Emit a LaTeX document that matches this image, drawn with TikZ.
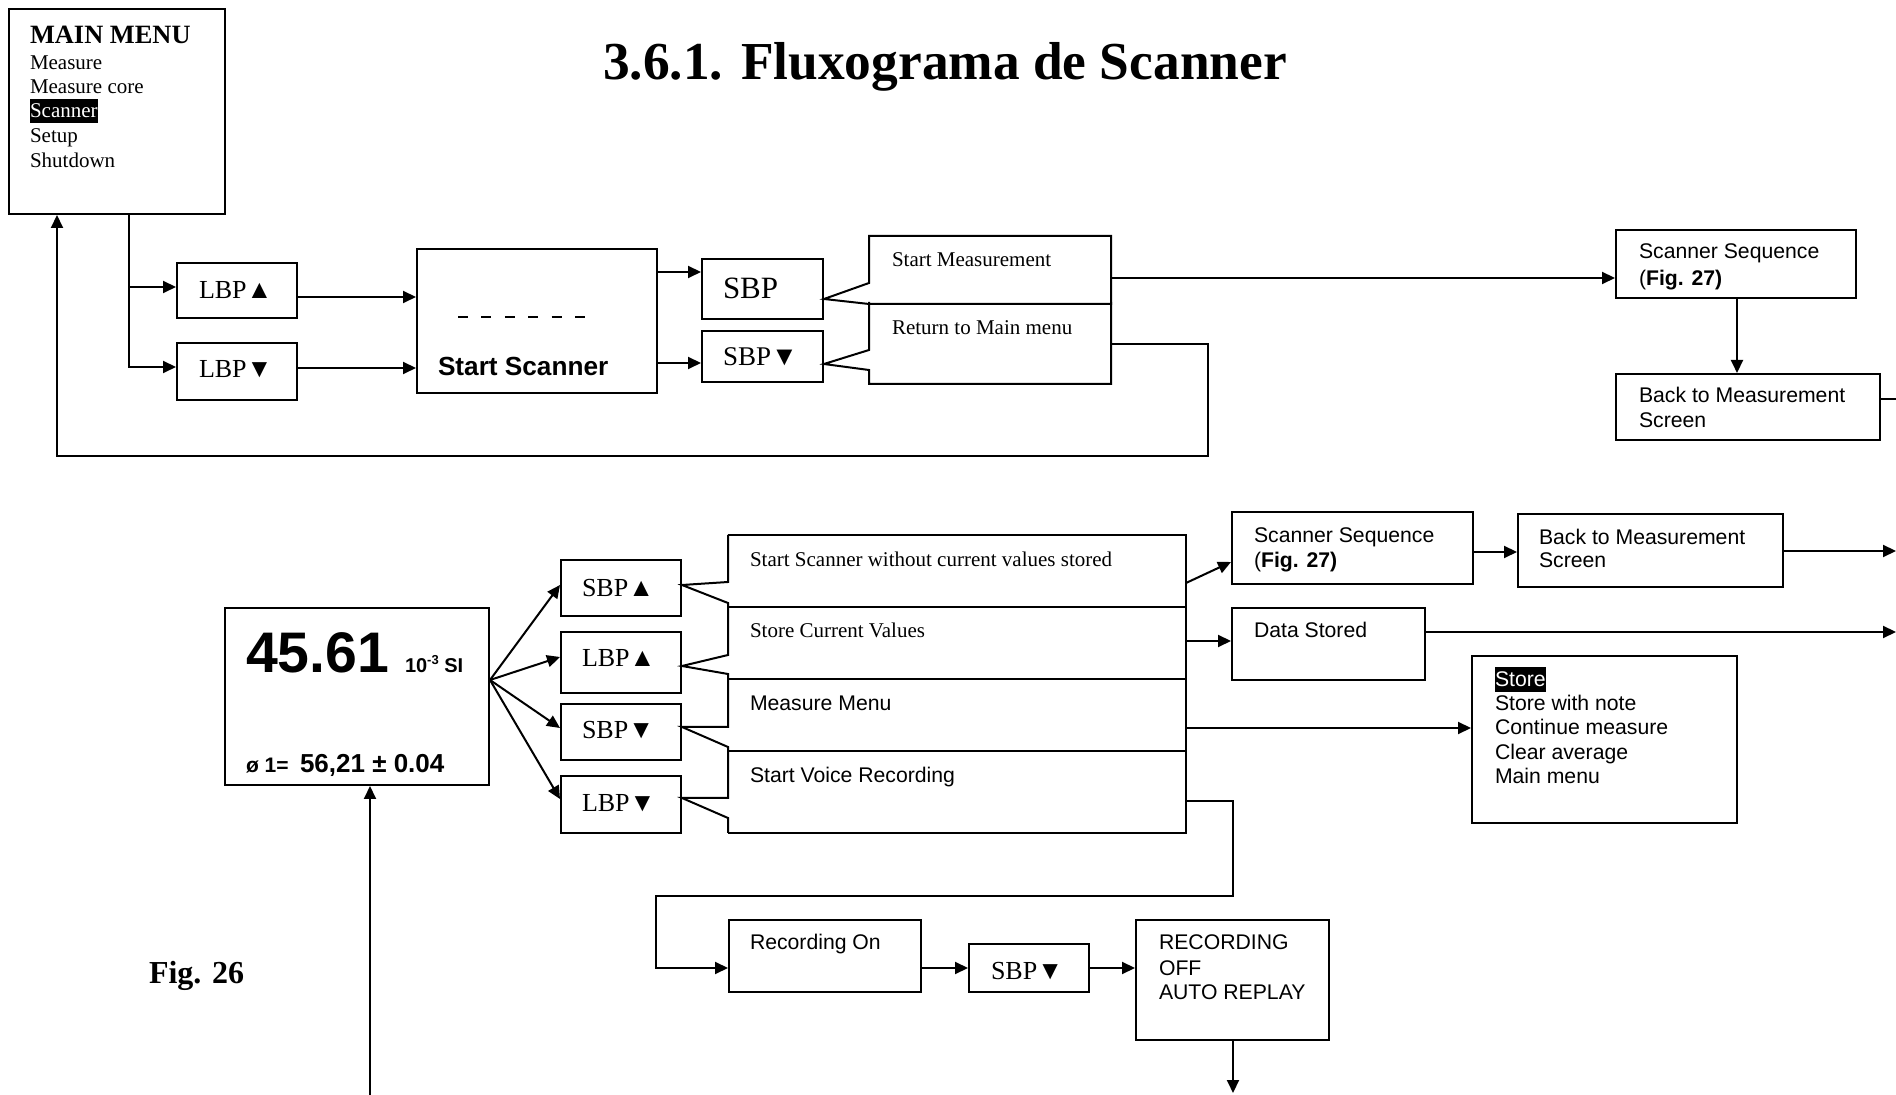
\documentclass[tikz,border=0pt]{standalone}
\usepackage{fontspec}
\setmainfont{Liberation Serif}
\newfontfamily\arialf{Liberation Sans}
\usetikzlibrary{arrows.meta,fit}

\begin{document}
\begin{tikzpicture}[x=0.5pt,y=-0.5pt,line width=1pt,
  box/.style={draw,inner sep=0pt},
  frame/.style={inner sep=0pt},
  arr/.style={-{Triangle[length=6.5pt,width=6pt]}},
  lbl/.style={anchor=base west,inner sep=0pt,font=\fontsize{10.5}{12}\selectfont},
  slbl/.style={anchor=base west,inner sep=0pt,font=\arialf\fontsize{10.6}{12}\selectfont},
  key/.style={anchor=base west,inner sep=0pt,font=\fontsize{13}{14}\selectfont},
  hilite/.style={fill=black,text=white,text height=9.6pt,text depth=2.5pt}]
\useasboundingbox (0,0) rectangle (1896,1095);

% ---------- title ----------
\node[anchor=base,inner sep=0pt,font=\bfseries\fontsize{26.7}{30}\selectfont] (title) at (945,80) {3.6.1. Fluxograma de Scanner};

% ---------- main menu ----------
\node[box,fit={(9,9)(225,214)}] (mm) {};
\node[anchor=base west,inner sep=0pt,font=\bfseries\fontsize{13.2}{15}\selectfont] (mmt) at (29,44) {MAIN MENU};
\node[lbl] (mm1) at (29,70) {Measure};
\node[lbl] (mm2) at (29,94) {Measure core};
\node[lbl,hilite] (mm3) at (29,118) {Scanner};
\node[lbl] (mm4) at (29,143) {Setup};
\node[lbl] (mm5) at (29,168) {Shutdown};

% ---------- upper row ----------
\node[box,fit={(177,263)(297,318)}] (lbpu) {};
\node[key] (lbput) at (198,299) {LBP▲};
\node[box,fit={(177,343)(297,400)}] (lbpd) {};
\node[key] (lbpdt) at (198,378) {LBP▼};

\node[box,fit={(417,249)(657,393)}] (ss) {};
\draw[line width=0.8pt,dash pattern=on 5pt off 6.7pt] (458,317) -- (585,317);
\node[anchor=base west,inner sep=0pt,font=\arialf\bfseries\fontsize{13.1}{14}\selectfont] (sst) at (437,376) {Start Scanner};

\node[box,fit={(702,259)(823,319)}] (sbp) {};
\node[key,font=\fontsize{15.5}{17}\selectfont] (sbpt) at (722,299) {SBP};
\node[box,fit={(702,331)(823,382)}] (sbpd) {};
\node[key,font=\fontsize{13.5}{15}\selectfont] (sbpdt) at (722,366) {SBP▼};

\node[frame,fit={(870,237)(1110,303)}] (sm) {};
\node[frame,fit={(870,303)(1110,383)}] (rm) {};
\draw (sm.west |- 0,283) -- (sm.north west) -- (sm.north east) -- (sm.south east)
      -- (sm.south west) -- (sbp.east |- 0,299) -- cycle;
\draw (rm.north west) -- (rm.west |- 0,350) -- (sbpd.east |- 0,364) -- (rm.west |- 0,370)
      -- (rm.south west) -- (rm.south east) -- (rm.north east);
\node[lbl] (smt) at (891,267) {Start Measurement};
\node[lbl] (rmt) at (891,335) {Return to Main menu};

\node[box,fit={(1616,230)(1856,298)}] (seq) {};
\node[slbl] (seq1) at (1638,259) {Scanner Sequence};
\node[slbl] (seq2) at (1638,286) {(\textbf{Fig. 27)}};
\node[box,fit={(1616,374)(1880,440)}] (back) {};
\node[slbl] (back1) at (1638,403) {Back to Measurement};
\node[slbl] (back2) at (1638,428) {Screen};
\coordinate (backout) at (1896,399);

% upper connectors
\draw[arr] (mm.south -| 129,0) |- (lbpd.west |- 0,367);
\draw[arr] (129,287) -- (lbpu.west |- 0,287);
\draw[arr] (lbpu.east |- 0,297) -- (ss.west |- 0,297);
\draw[arr] (lbpd.east |- 0,368) -- (ss.west |- 0,368);
\draw[arr] (ss.east |- 0,272) -- (sbp.west |- 0,272);
\draw[arr] (ss.east |- 0,363) -- (sbpd.west |- 0,363);
\draw[arr] (sm.east |- 0,278) -- (seq.west |- 0,278);
\draw[arr] (seq.south -| 1737,0) -- (back.north -| 1737,0);
\draw (back.east |- backout) -- (backout);
\draw[arr] (rm.east |- 0,344) -| (1208,456) -| (mm.south -| 57,0);

% ---------- measurement screen ----------
\node[box,fit={(225,608)(489,785)}] (val) {};
\node[anchor=base west,inner sep=0pt,font=\arialf\bfseries\fontsize{28.6}{30}\selectfont] (valn) at (245,673) {45.61};
\node[anchor=base west,inner sep=0pt,font=\arialf\bfseries\fontsize{10}{11}\selectfont] (valu) at (404,673)
  {10\raisebox{4.3pt}{\fontsize{6.5}{7}\selectfont -3} SI};
\node[anchor=base west,inner sep=0pt,font=\arialf\bfseries\fontsize{10.5}{11}\selectfont] (vald) at (245,773) {ø 1=};
\node[anchor=base west,inner sep=0pt,font=\arialf\bfseries\fontsize{13}{14}\selectfont] (valm) at (299,773) {56,21 ± 0.04};
\coordinate (fan) at (val.east |- 0,680);
\coordinate (valin) at (370,1095);
\draw[arr] (valin) -- (val.south -| valin);

\node[box,fit={(561,560)(681,616)}] (b1) {};
\node[key] (b1t) at (581,597) {SBP▲};
\node[box,fit={(561,632)(681,693)}] (b2) {};
\node[key] (b2t) at (581,667) {LBP▲};
\node[box,fit={(561,704)(681,760)}] (b3) {};
\node[key] (b3t) at (581,739) {SBP▼};
\node[box,fit={(561,776)(681,833)}] (b4) {};
\node[key] (b4t) at (581,812) {LBP▼};

\draw[arr] (fan) -- (b1.west |- 0,585);
\draw[arr] (fan) -- (b2.west |- 0,657);
\draw[arr] (fan) -- (b3.west |- 0,728);
\draw[arr] (fan) -- (b4.west |- 0,799);

% option list with pointers
\node[frame,fit={(729,536)(1185,608)}] (r1) {};
\node[frame,fit={(729,608)(1185,680)}] (r2) {};
\node[frame,fit={(729,680)(1185,752)}] (r3) {};
\node[frame,fit={(729,752)(1185,832)}] (r4) {};
\draw (r1.north west) -- (r1.north east) -- (r4.south east) -- (r4.south west);
\draw (r2.north west) -- (r2.north east);
\draw (r3.north west) -- (r3.north east);
\draw (r4.north west) -- (r4.north east);
\draw (r1.north west) -- (r1.west |- 0,582) -- (b1.east |- 0,585) -- (r1.west |- 0,603)
      -- (r1.west |- 0,655) -- (b2.east |- 0,666) -- (r1.west |- 0,674)
      -- (r1.west |- 0,727) -- (b3.east |- 0,727) -- (r1.west |- 0,747)
      -- (r1.west |- 0,798) -- (b4.east |- 0,798) -- (r1.west |- 0,818) -- (r4.south west);
\node[lbl] (r1t) at (749,567) {Start Scanner without current values stored};
\node[lbl] (r2t) at (749,638) {Store Current Values};
\node[slbl] (r3t) at (749,711) {Measure Menu};
\node[slbl] (r4t) at (749,783) {Start Voice Recording};

% right-hand results
\node[box,fit={(1232,512)(1473,584)}] (seqb) {};
\node[slbl] (seqb1) at (1253,543) {Scanner Sequence};
\node[slbl] (seqb2) at (1253,568) {(\textbf{Fig. 27)}};
\node[box,fit={(1518,514)(1783,587)}] (backb) {};
\node[slbl] (backb1) at (1538,545) {Back to Measurement};
\node[slbl] (backb2) at (1538,568) {Screen};
\coordinate (backbout) at (1896,551);
\node[box,fit={(1232,608)(1425,680)}] (data) {};
\node[slbl] (datat) at (1253,638) {Data Stored};
\coordinate (dataout) at (1896,632);

\node[box,fit={(1472,656)(1737,823)}] (menu) {};
\node[slbl,hilite,text height=10pt] (menu1) at (1494,687) {Store};
\node[slbl] (menu2) at (1494,711) {Store with note};
\node[slbl] (menu3) at (1494,735) {Continue measure};
\node[slbl] (menu4) at (1494,760) {Clear average};
\node[slbl] (menu5) at (1494,784) {Main menu};

\draw[arr] (r1.east |- 0,583) -- (seqb.west |- 0,562);
\draw[arr] (seqb.east |- 0,552) -- (backb.west |- 0,552);
\draw[arr] (backb.east |- backbout) -- (backbout);
\draw[arr] (r2.east |- 0,641) -- (data.west |- 0,641);
\draw[arr] (data.east |- dataout) -- (dataout);
\draw[arr] (r3.east |- 0,728) -- (menu.west |- 0,728);

% voice recording
\node[box,fit={(729,920)(921,992)}] (recon) {};
\node[slbl] (recont) at (749,950) {Recording On};
\node[box,fit={(969,944)(1089,992)}] (b5) {};
\node[key] (b5t) at (990,979) {SBP▼};
\node[box,fit={(1136,920)(1329,1040)}] (recoff) {};
\node[slbl] (recoff1) at (1158,950) {RECORDING};
\node[slbl] (recoff2) at (1158,975) {OFF};
\node[slbl] (recoff3) at (1158,999) {AUTO REPLAY};
\coordinate (recout) at (1233,1093);

\draw[arr] (r4.east |- 0,801) -| (1233,896) -| (656,968) -- (recon.west |- 0,968);
\draw[arr] (recon.east |- 0,968) -- (b5.west |- 0,968);
\draw[arr] (b5.east |- 0,968) -- (recoff.west |- 0,968);
\draw[arr] (recoff.south -| recout) -- (recout);

\node[anchor=base west,inner sep=0pt,font=\bfseries\fontsize{16}{18}\selectfont] (fig) at (148,983) {Fig. 26};
\end{tikzpicture}
\end{document}
